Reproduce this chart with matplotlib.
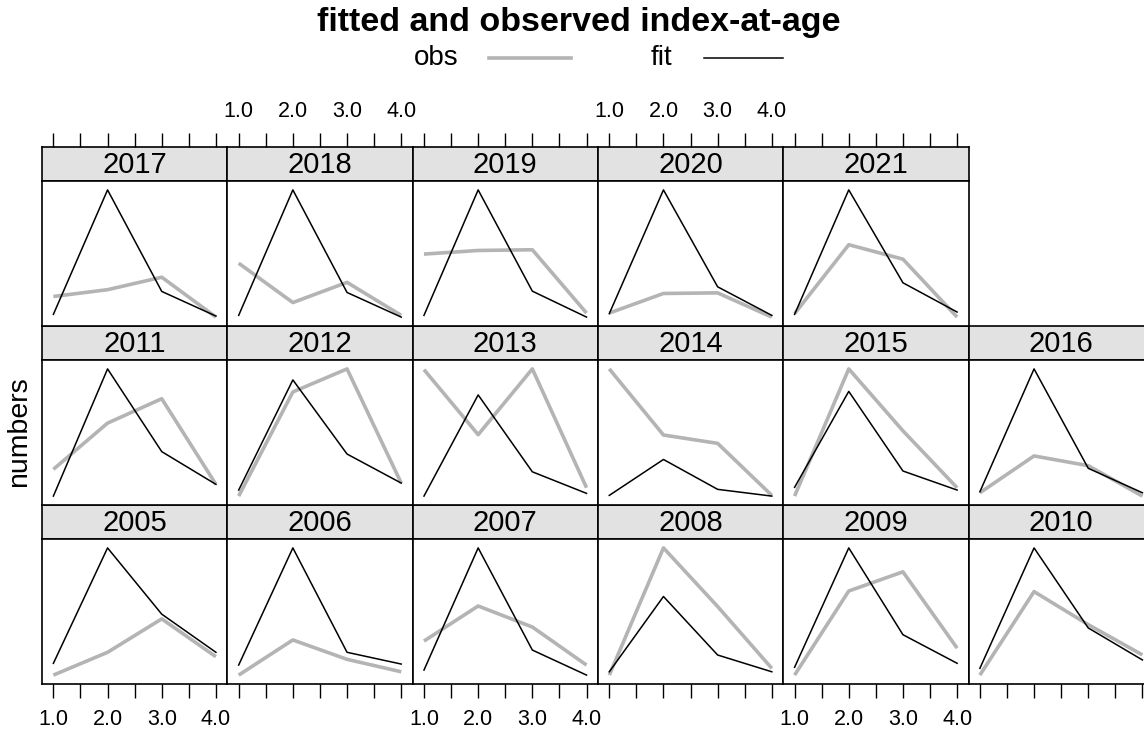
import matplotlib
matplotlib.use('Agg')
import matplotlib.pyplot as plt
from matplotlib.lines import Line2D
import numpy as np

plt.rcParams['font.family'] = ['Liberation Sans', 'DejaVu Sans']

# ---------------- data (relative index values) -------------
ages = [1, 2, 3, 4]
years = list(range(2005, 2022))
tick_values = [1.0, 1.5, 2.0, 2.5, 3.0, 3.5, 4.0]
tick_labels = ['1.0', '', '2.0', '', '3.0', '', '4.0']

obs_values = [
    [9, 31.7, 65, 27.3],        # 2005
    [9, 44, 24.7, 12.3],        # 2006
    [43, 78, 57, 19],           # 2007
    [9, 135.7, 77.3, 15.7],     # 2008
    [9, 92.3, 111.3, 35.7],     # 2009
    [9, 91.7, 59, 29],          # 2010
    [35.7, 81.7, 106, 20.7],    # 2011
    [9, 113, 136, 22],          # 2012
    [135, 70.7, 135.7, 18.3],   # 2013
    [135.7, 70, 61.7, 10],      # 2014
    [9, 135.7, 74, 17.3],       # 2015
    [12.3, 49, 39.3, 9],        # 2016
    [30.3, 37, 49.3, 10],       # 2017
    [62.7, 23.7, 43.7, 11],     # 2018
    [71.7, 75.3, 76, 13.3],     # 2019
    [13.3, 32.7, 33.3, 9.3],    # 2020
    [12.7, 81, 66.7, 9.3],      # 2021
]
fit_values = [
    [20.7, 135.7, 69.7, 31.7],  # 2005
    [19, 135.7, 31.7, 20],      # 2006
    [14, 136, 34, 9],           # 2007
    [12.3, 87.3, 29, 12.3],     # 2008
    [16.7, 135, 49, 20.7],      # 2009
    [15.7, 135, 55.7, 24],      # 2010
    [9, 135.7, 53.3, 20.7],     # 2011
    [15, 125, 51, 22],          # 2012
    [10, 110, 34, 12.7],        # 2013
    [10, 45.7, 16, 9.3],        # 2014
    [17.7, 113.3, 34, 15],      # 2015
    [13.3, 135.7, 36.7, 12.3],  # 2016
    [12.7, 135.3, 35.3, 11],    # 2017
    [11, 135.3, 33.7, 9.3],     # 2018
    [11, 135.3, 35, 9.3],       # 2019
    [12.7, 135.3, 39.3, 11],    # 2020
    [12, 135.3, 43.3, 14.3],    # 2021
]

OBS_COLOR = '#b4b4b4'
FIT_COLOR = '#000000'
STRIP_COLOR = '#e2e2e2'

# ---------------- layout (pixels) ----------------
W, H = 1144, 736
fig = plt.figure(figsize=(W / 100, H / 100), dpi=100)

left0 = 42.0
pw = 185.3
strip_h = 34.0
panel_h = 145.0
top0 = 147.0
ncol, nrow = 6, 3


def rect(x, y_top, w, h):
    return [x / W, (H - y_top - h) / H, w / W, h / H]


xpad = 0.07 * (max(ages) - min(ages))
xlim = (min(ages) - xpad, max(ages) + xpad)

for i, yr in enumerate(years):
    row_from_bottom = i // ncol
    col = i % ncol
    row = nrow - 1 - row_from_bottom
    x0 = left0 + col * pw
    ys = top0 + row * (strip_h + panel_h)

    # strip
    sax = fig.add_axes(rect(x0, ys, pw, strip_h))
    sax.set_facecolor(STRIP_COLOR)
    sax.set_xlim(xlim)
    sax.set_ylim(0, 1)
    sax.text(0.5, 0.47, str(yr), transform=sax.transAxes, ha='center',
             va='center', fontsize=21)
    for sp in sax.spines.values():
        sp.set_linewidth(1.2)
    sax.set_yticks([])
    if row == 0:
        sax.set_xticks(tick_values)
        sax.set_xticklabels(tick_labels)
        sax.tick_params(axis='x', direction='out', length=10, width=1,
                        bottom=False, labelbottom=False, top=True,
                        labeltop=(col % 2 == 1), labelsize=15.5, pad=8)
    else:
        sax.set_xticks([])

    # panel
    ax = fig.add_axes(rect(x0, ys + strip_h, pw, panel_h))
    o = obs_values[i]
    f = fit_values[i]
    ax.plot(ages, o, color=OBS_COLOR, lw=2.6, solid_capstyle='butt')
    ax.plot(ages, f, color=FIT_COLOR, lw=1.1)
    lo = min(min(o), min(f))
    hi = max(max(o), max(f))
    rng = hi - lo
    ax.set_ylim(lo - 0.07 * rng, hi + 0.07 * rng)
    ax.set_xlim(xlim)
    ax.set_yticks([])
    for sp in ax.spines.values():
        sp.set_linewidth(1.2)
    if row == nrow - 1:
        ax.set_xticks(tick_values)
        ax.set_xticklabels(tick_labels)
        ax.tick_params(axis='x', direction='out', length=10, width=1,
                       labelbottom=(col % 2 == 0), labelsize=15.5, pad=8)
    else:
        ax.set_xticks([])

# title
fig.text(579 / W, 1 - 22 / H, 'fitted and observed index-at-age',
         ha='center', va='center', fontsize=24.5, fontweight='bold')

# legend
ly = 1 - 58 / H
fig.text(436 / W, ly, 'obs', ha='center', va='center', fontsize=20)
fig.add_artist(Line2D([489 / W, 571 / W], [ly, ly], color=OBS_COLOR, lw=2.6,
                      transform=fig.transFigure))
fig.text(661 / W, ly, 'fit', ha='center', va='center', fontsize=20)
fig.add_artist(Line2D([704 / W, 783 / W], [ly, ly], color=FIT_COLOR, lw=1.1,
                      transform=fig.transFigure))

# y label
fig.text(19 / W, 1 - 432 / H, 'numbers', rotation=90, ha='center',
         va='center', fontsize=20.5)

fig.savefig('out.png', dpi=100)
